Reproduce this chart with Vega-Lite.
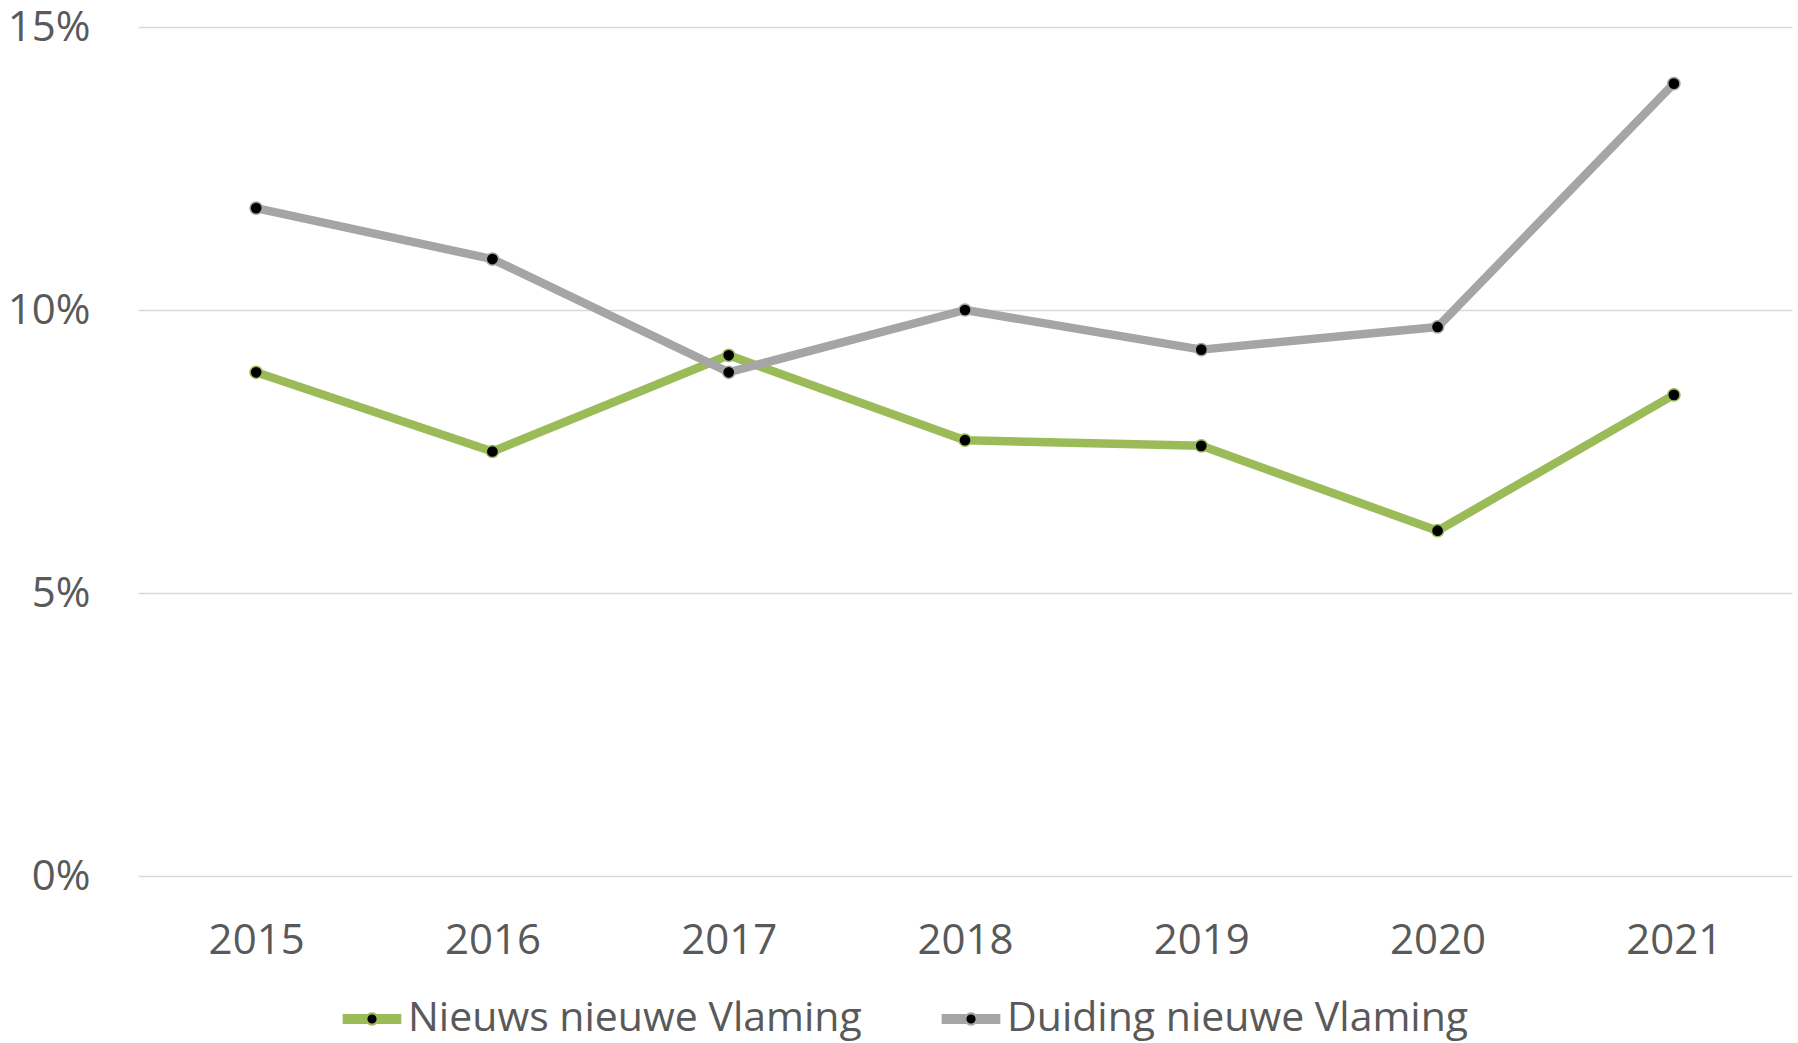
{
  "$schema": "https://vega.github.io/schema/vega-lite/v6.json",
  "autosize": {"type": "none"},
  "width": 1654,
  "height": 849,
  "padding": {"left": 138, "top": 27, "right": 6, "bottom": 167},
  "background": "white",
  "config": {
    "view": {"stroke": null},
    "font": "Open Sans",
    "axis": {"labelFont": "Open Sans", "labelFontSize": 42, "labelColor": "#595959", "ticks": false, "tickSize": 0, "domain": false, "title": null, "gridColor": "#D9D9D9", "gridWidth": 1.5}
  },
  "data": {
    "values": [
      {"year": "2015", "series": "Nieuws nieuwe Vlaming", "value": 8.9},
      {"year": "2016", "series": "Nieuws nieuwe Vlaming", "value": 7.5},
      {"year": "2017", "series": "Nieuws nieuwe Vlaming", "value": 9.2},
      {"year": "2018", "series": "Nieuws nieuwe Vlaming", "value": 7.7},
      {"year": "2019", "series": "Nieuws nieuwe Vlaming", "value": 7.6},
      {"year": "2020", "series": "Nieuws nieuwe Vlaming", "value": 6.1},
      {"year": "2021", "series": "Nieuws nieuwe Vlaming", "value": 8.5},
      {"year": "2015", "series": "Duiding nieuwe Vlaming", "value": 11.8},
      {"year": "2016", "series": "Duiding nieuwe Vlaming", "value": 10.9},
      {"year": "2017", "series": "Duiding nieuwe Vlaming", "value": 8.9},
      {"year": "2018", "series": "Duiding nieuwe Vlaming", "value": 10.0},
      {"year": "2019", "series": "Duiding nieuwe Vlaming", "value": 9.3},
      {"year": "2020", "series": "Duiding nieuwe Vlaming", "value": 9.7},
      {"year": "2021", "series": "Duiding nieuwe Vlaming", "value": 14.0}
    ]
  },
  "encoding": {
    "x": {
      "field": "year", "type": "ordinal",
      "scale": {"type": "point", "padding": 0.5},
      "axis": {"labelAngle": 0, "grid": false, "labelPadding": 44, "labelBaseline": "top"}
    },
    "y": {
      "field": "value", "type": "quantitative",
      "scale": {"domain": [0, 15], "nice": false, "zero": true},
      "axis": {"values": [0, 5, 10, 15], "labelExpr": "datum.value + '%'", "labelPadding": 48, "grid": true, "labelBaseline": "middle"}
    }
  },
  "layer": [
    {
      "mark": {"type": "line", "strokeWidth": 8.5, "strokeCap": "round", "strokeJoin": "round"},
      "encoding": {
        "color": {
          "field": "series", "type": "nominal",
          "scale": {"domain": ["Nieuws nieuwe Vlaming", "Duiding nieuwe Vlaming"], "range": ["#9BBB59", "#A5A5A5"]},
          "legend": {
            "orient": "none", "legendX": 204, "legendY": 962, "direction": "horizontal", "title": null,
            "padding": 0,
            "labelFont": "Open Sans", "labelFontSize": 41, "labelColor": "#595959", "labelLimit": 0,
            "labelOffset": 6, "columnPadding": 76,
            "symbolType": "M-1,-0.14H-0.2M0.2,-0.14H1M-1,-0.07H-0.2M0.2,-0.07H1M-1,0H-0.2M0.2,0H1M-1,0.07H-0.2M0.2,0.07H1M-1,0.14H-0.2M0.2,0.14H1M0.2,0A0.2,0.2,0,1,1,-0.2,0A0.2,0.2,0,1,1,0.2,0Z",
            "symbolSize": 3249, "symbolStrokeWidth": 2.2,
            "encode": {"symbols": {"update": {"fill": {"value": "#000000"}, "strokeCap": {"value": "round"}, "opacity": {"value": 1}}}}
          }
        },
        "order": {"field": "year"}
      }
    },
    {
      "mark": {"type": "point", "filled": true, "fill": "#000000", "size": 150, "strokeWidth": 1.5, "opacity": 1},
      "encoding": {
        "stroke": {
          "field": "series", "type": "nominal",
          "scale": {"domain": ["Nieuws nieuwe Vlaming", "Duiding nieuwe Vlaming"], "range": ["#9BBB59", "#A5A5A5"]},
          "legend": null
        }
      }
    }
  ]
}
